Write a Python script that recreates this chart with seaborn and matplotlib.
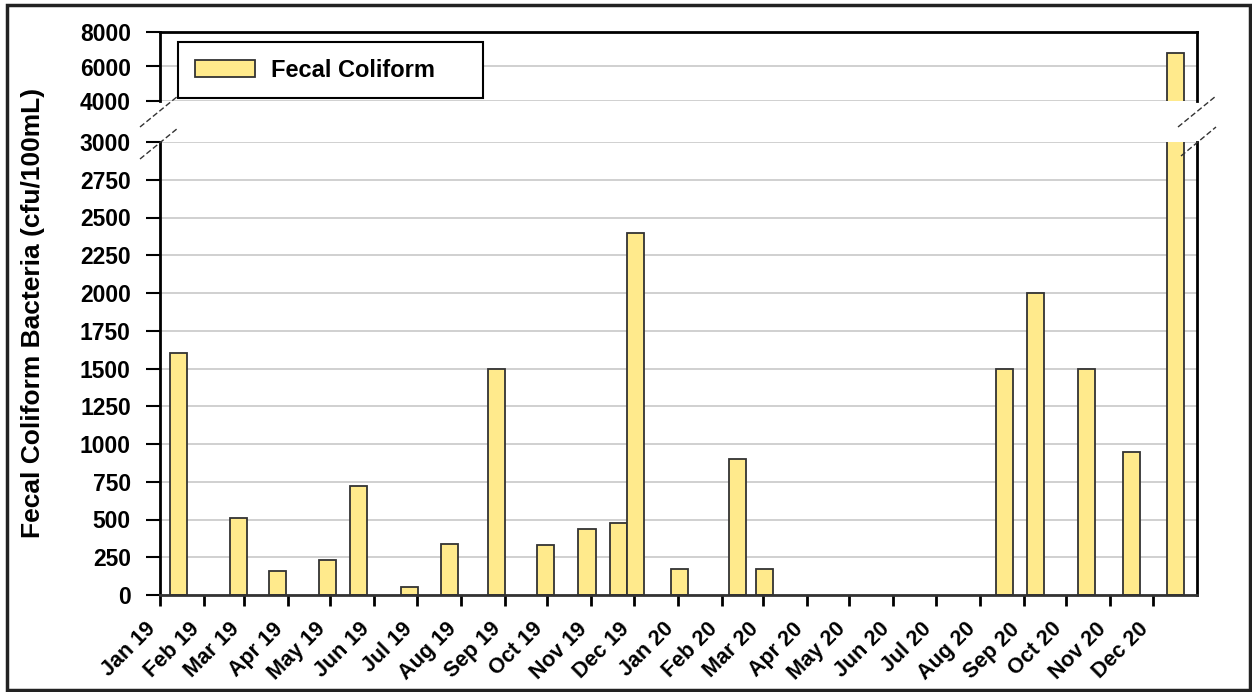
### Fecal coliform samples, broken y-axis ###
import matplotlib
matplotlib.use("Agg")
import matplotlib.pyplot as plt
import matplotlib.dates as mdates
from matplotlib.lines import Line2D
from matplotlib.patches import Rectangle, Patch
import seaborn as sns
import pandas as pd

# sample dates and results (cfu/100mL)
sample_dates = ["2019-01-14", "2019-02-25", "2019-03-25", "2019-04-29", "2019-05-21",
                "2019-06-26", "2019-07-24", "2019-08-26", "2019-09-30", "2019-10-29",
                "2019-11-20", "2019-12-02", "2020-01-02", "2020-02-12", "2020-03-02",
                "2020-08-18", "2020-09-09", "2020-10-15", "2020-11-16", "2020-12-17"]
fecal_coliform = [1600, 510, 160, 235, 720,
                  50, 340, 1500, 330, 440,
                  480, 2400, 170, 900, 175,
                  1500, 2000, 1500, 950, 6800]

tick_labels = ["Jan 19", "Feb 19", "Mar 19", "Apr 19", "May 19", "Jun 19",
               "Jul 19", "Aug 19", "Sep 19", "Oct 19", "Nov 19", "Dec 19",
               "Jan 20", "Feb 20", "Mar 20", "Apr 20", "May 20", "Jun 20",
               "Jul 20", "Aug 20", "Sep 20", "Oct 20", "Nov 20", "Dec 20"]
lower_ticks = list(range(0, 3001, 250))
upper_ticks = [4000, 6000, 8000]

sns.set_theme(style="white")
plt.rcParams["font.family"] = ["Liberation Sans", "DejaVu Sans"]
plt.rcParams["font.weight"] = "bold"
plt.rcParams["text.color"] = "black"
plt.rcParams["xtick.color"] = "black"
plt.rcParams["ytick.color"] = "black"

W, H = 1252, 692
fig = plt.figure(figsize=(W / 100, H / 100), dpi=100)


def frac(x0, y0, x1, y1):
    return [x0 / W, 1 - y1 / H, (x1 - x0) / W, (y1 - y0) / H]


ax_top = fig.add_axes(frac(160, 32, 1197, 101))
ax_bot = fig.add_axes(frac(160, 142, 1197, 595))

df = pd.DataFrame({
    "date": mdates.date2num(pd.to_datetime(sample_dates)),
    "cfu": fecal_coliform,
})

bar_color = "#FFEA8C"
bar_kw = dict(color=bar_color, edgecolor="#333333", linewidth=1.3, saturation=1,
              errorbar=None, native_scale=True, width=1.0)
for ax in (ax_top, ax_bot):
    sns.barplot(data=df, x="date", y="cfu", ax=ax, **bar_kw)
    ax.set_xlabel("")
    ax.set_ylabel("")
    ax.set_xlim(mdates.date2num(pd.Timestamp("2019-01-01")),
                mdates.date2num(pd.Timestamp("2021-01-01")))
    ax.yaxis.grid(True, color="#C8C8C8", lw=1.2)
    ax.xaxis.grid(False)
    ax.set_axisbelow(True)
    for s in ax.spines.values():
        s.set_color("black")
        s.set_linewidth(2)
    ax.tick_params(axis="y", left=True, direction="out", length=10, width=1.5,
                   pad=11, labelsize=16.5)

# lower panel
tick_pos = mdates.date2num(pd.date_range("2019-01-01", periods=len(tick_labels), freq="MS"))
ax_bot.set_xticks(tick_pos)
ax_bot.set_xticklabels(tick_labels, rotation=45, ha="right", va="top",
                       fontsize=15.5, fontweight="bold")
ax_bot.tick_params(axis="x", bottom=True, direction="out", length=8, width=2, pad=9)
ax_bot.set_ylim(0, 3000)
ax_bot.set_yticks(lower_ticks)
ax_bot.spines["top"].set_visible(False)
ax_bot.spines["bottom"].set_color("#333333")

# upper panel
ax_top.set_ylim(4000, 8000)
ax_top.set_yticks(upper_ticks)
ax_top.set_xticks([])
ax_top.spines["bottom"].set_visible(False)

for ax in (ax_top, ax_bot):
    for lab in ax.get_yticklabels():
        lab.set_fontweight("bold")

leg = ax_top.legend(handles=[Patch(facecolor=bar_color, edgecolor="#333333", linewidth=1.3)],
                    labels=["Fecal Coliform"], loc="upper left", mode="expand",
                    bbox_to_anchor=(18 / 1037, 1 - 10 / 69, 305 / 1037, 0),
                    borderaxespad=0, frameon=True, fancybox=False, framealpha=1,
                    edgecolor="black", prop={"size": 17, "weight": "bold"},
                    handlelength=2.55, handleheight=0.72, handletextpad=0.69,
                    borderpad=0.7)
leg.get_frame().set_linewidth(1.5)
leg.set_zorder(10)

fig.text(33.5 / W, 1 - 312.5 / H, "Fecal Coliform Bacteria (cfu/100mL)", rotation=90,
         ha="center", va="center", fontsize=19, fontweight="bold")

# axis break marks
def brk(x0, y0, x1, y1):
    fig.add_artist(Line2D([x0 / W, x1 / W], [1 - y0 / H, 1 - y1 / H],
                          transform=fig.transFigure, color="#333333", lw=1,
                          linestyle=(0, (4, 2))))

brk(140, 127, 178, 96)
brk(140, 159, 178, 128)
brk(1178, 127, 1216, 96)
brk(1181, 156, 1216, 127)

# outer frame
fig.add_artist(Rectangle((7 / W, 1 - 690 / H), (1250 - 7) / W, (690 - 5) / H,
                         transform=fig.transFigure, fill=False, ec="#222222", lw=2.5))

fig.savefig("out.png", dpi=100)
